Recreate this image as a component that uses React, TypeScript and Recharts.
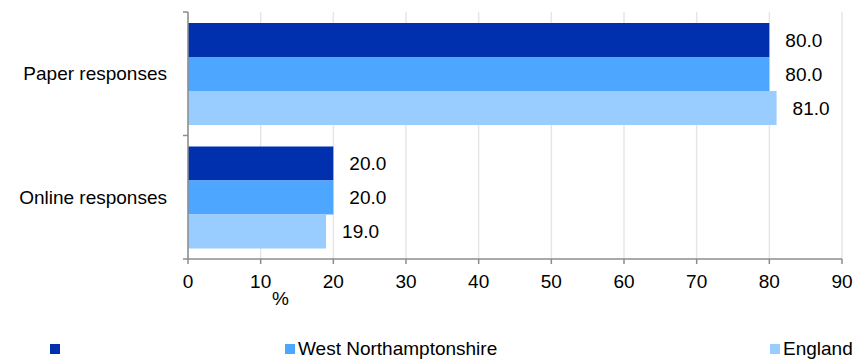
import React from "react";
import { BarChart, Bar, XAxis, YAxis, CartesianGrid, LabelList, Label } from "recharts";

const categories = ["Paper responses", "Online responses"];
const seriesNames = ["", "West Northamptonshire", "England"];
const areaValues = [80.0, 20.0];
const westNorthantsValues = [80.0, 20.0];
const englandValues = [81.0, 19.0];
const xTicks = [0, 10, 20, 30, 40, 50, 60, 70, 80, 90];

const colors = ["#0030ad", "#4da6ff", "#99ccff"];
const legendLeft = [50, 285, 770];
const FONT = "'Liberation Sans', Arial, sans-serif";
const FS = 19;
const AXIS = "#8c8c8c";
const Y_TICK_SIZE = 6;
const Y_TICK_MARGIN = 15;

const data = categories.map((c, i) => ({
  name: c,
  s0: areaValues[i],
  s1: westNorthantsValues[i],
  s2: englandValues[i],
}));

const fmt = (v: any) => Number(v).toFixed(1);

const CategoryTick = (props: any) => {
  const { x, y, payload, index, visibleTicksCount } = props;
  const half = payload && payload.offset ? payload.offset : 0;
  const axisX = x + Y_TICK_SIZE + Y_TICK_MARGIN;
  return (
    <g>
      <line x1={axisX - 5} x2={axisX} y1={y - half} y2={y - half} stroke={AXIS} strokeWidth={1.5} />
      {index === visibleTicksCount - 1 ? (
        <line x1={axisX - 5} x2={axisX} y1={y + half} y2={y + half} stroke={AXIS} strokeWidth={1.5} />
      ) : null}
      <text x={x} y={y} dy="0.355em" textAnchor="end" fill="#000" fontSize={FS} fontFamily={FONT}>
        {payload.value}
      </text>
    </g>
  );
};

export default function App() {
  return (
    <div style={{ position: "absolute", left: 0, top: 0, width: 863, height: 359, fontFamily: FONT }}>
      <BarChart
        width={863}
        height={359}
        data={data}
        layout="vertical"
        margin={{ top: 12, right: 21, left: 0, bottom: 70 }}
        barGap={0}
        barCategoryGap="9%"
      >
        <CartesianGrid horizontal={false} stroke="#e6e6e6" strokeWidth={1.5} />
        <XAxis
          type="number"
          domain={[0, 90]}
          ticks={xTicks}
          interval={0}
          height={30}
          stroke={AXIS}
          strokeWidth={1.5}
          tickSize={5}
          tickMargin={11}
          tick={{ fill: "#000", fontSize: FS, fontFamily: FONT }}
        >
          <Label
            content={(props: any) => {
              const vb = props.viewBox || {};
              return (
                <text x={vb.x + 84} y={vb.y + 46} fontSize={FS} fill="#000" fontFamily={FONT}>
                  %
                </text>
              );
            }}
          />
        </XAxis>
        <YAxis
          type="category"
          dataKey="name"
          width={188}
          stroke={AXIS}
          strokeWidth={1.5}
          tickLine={false}
          tickSize={Y_TICK_SIZE}
          tickMargin={Y_TICK_MARGIN}
          interval={0}
          tick={<CategoryTick />}
        />
        {["s0", "s1", "s2"].map((k, i) => (
          <Bar key={k} dataKey={k} name={seriesNames[i]} fill={colors[i]} isAnimationActive={false}>
            <LabelList
              dataKey={k}
              position="right"
              offset={16}
              formatter={fmt}
              fill="#000"
              fontSize={FS}
              fontFamily={FONT}
            />
          </Bar>
        ))}
      </BarChart>
      {seriesNames.map((n, i) => (
        <div
          key={i}
          style={{
            position: "absolute",
            left: legendLeft[i],
            top: 338,
            height: 22,
            display: "flex",
            alignItems: "center",
            fontSize: FS,
            color: "#000",
            whiteSpace: "nowrap",
          }}
        >
          <span style={{ display: "inline-block", width: 10, height: 10, background: colors[i], marginRight: 3 }} />
          <span>{n}</span>
        </div>
      ))}
    </div>
  );
}
